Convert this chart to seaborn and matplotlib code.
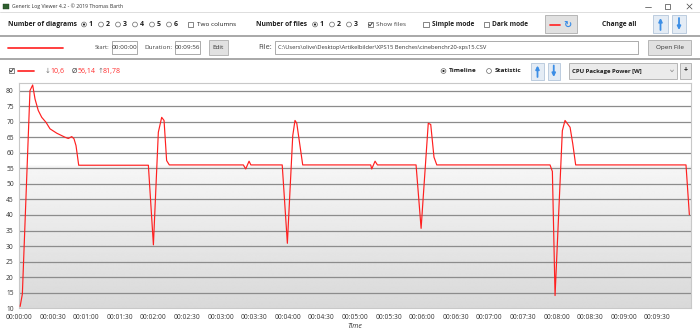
import matplotlib
matplotlib.use("Agg")
import numpy as np
import pandas as pd
import matplotlib.pyplot as plt
import seaborn as sns
from matplotlib.patches import Rectangle, Circle
from matplotlib.ticker import FuncFormatter

# ---------------- data ----------------
time_s = [1, 3, 9.8, 12.2, 14.3, 17.2, 20.3, 24.1, 27.7, 33.7, 41.1, 44.0, 47.1, 49.1, 50.9, 53.3,
          115.5, 120.0, 124.4, 127.4, 129.5, 131.8, 134.2, 200.3, 202.4, 205.4, 207.0, 235.0,
          239.6, 244.4, 246.4, 248.0, 253.3, 314.0, 314.9, 317.9, 320.0, 354.5,
          359.0, 365.4, 367.6, 370.5, 373.0, 474.1, 476.2, 478.6, 485.1, 487.5, 492.0,
          494.4, 497.0, 595.5, 598.5]
power_w = [10.6, 14.6, 80.0, 81.8, 77.3, 73.6, 71.4, 69.8, 67.7, 66.3, 65.0, 64.6, 65.2, 64.5, 62.3, 56.0,
           56.0, 30.4, 66.6, 71.4, 70.4, 57.5, 56.1, 56.1, 54.8, 57.3, 56.1, 56.1,
           30.9, 65.5, 70.4, 69.5, 56.1, 56.1, 54.8, 57.3, 56.1, 56.1,
           35.7, 69.5, 69.1, 58.6, 56.1, 56.1, 54.0, 14.1, 67.1, 70.4, 68.2,
           62.9, 56.1, 56.1, 40.1]
y_ticks = list(range(10, 81, 5))
x_ticks_s = list(range(0, 571, 30))
stat_min, stat_avg, stat_max = "10,6", "56,14", "81,78"
window_title = "Generic Log Viewer 4.2 - \u00a9 2019 Thomas Barth"
file_path = r"C:\Users\olive\Desktop\Artikelbilder\XPS15 Benches\cinebenchr20-xps15.CSV"
series_name = "CPU Package Power [W]"
start_txt, duration_txt = "00:00:00", "00:09:56"
diagram_opts = ["1", "2", "3", "4", "5", "6"]
file_opts = ["1", "2", "3"]

df = pd.DataFrame({"t": time_s, "p": power_w})

# ---------------- style ----------------
sns.set_style("white")
plt.rcParams['font.family'] = ['Open Sans', 'DejaVu Sans']

W, H = 700, 335
fig = plt.figure(figsize=(7, 3.35), dpi=100)
fig.patch.set_facecolor("white")
ui = fig.add_axes([0, 0, 1, 1])
ui.set_xlim(0, W)
ui.set_ylim(H, 0)
ui.axis('off')
renderer = fig.canvas.get_renderer()

RED = "#ff3030"
TXT = "#1e1e1e"


def txt(x, y, s, w=None, size=5.0, ha='left', color=TXT, weight='normal', **kw):
    t = ui.text(x, y, s, ha=ha, va='center', fontsize=size, color=color,
                fontweight=weight, **kw)
    if w:
        bb = t.get_window_extent(renderer)
        t.set_fontsize(size * w / bb.width)
    return t


def box(x0, y0, x1, y1, fc, ec, lw=0.6, z=1):
    ui.add_patch(Rectangle((x0, y0), x1 - x0, y1 - y0, facecolor=fc,
                           edgecolor=ec, linewidth=lw, zorder=z))


def radio(x, y, on):
    ui.add_patch(Circle((x, y), 2.4, facecolor='white', edgecolor='#6a6a6a', lw=0.5))
    if on:
        ui.add_patch(Circle((x, y), 1.1, facecolor='#222222', edgecolor='none'))


def check(x, y, on):
    box(x - 2.6, y - 2.6, x + 2.6, y + 2.6, 'white', '#555555', 0.5)
    if on:
        ui.plot([x - 1.7, x - 0.5, x + 1.8], [y - 0.1, y + 1.4, y - 1.6],
                color='#222222', lw=0.6)


def arrow_btn(x0, x1, y0, y1, up=True):
    box(x0, y0, x1, y1, '#e4ecf5', '#b4c6da', 0.6)
    xc = (x0 + x1) / 2
    a, b = (y1 - 3, y0 + 3) if up else (y0 + 3, y1 - 3)
    ui.annotate('', xy=(xc, b), xytext=(xc, a),
                arrowprops=dict(arrowstyle='-|>', color='#3c8ee6', lw=1.3,
                                mutation_scale=5, shrinkA=0, shrinkB=0))


# ---- title bar ----
box(3, 3.5, 8.5, 9, '#2f5f2f', '#1f3f1f', 0.3)
txt(12, 6.3, window_title, w=109, size=4, color='#333333')
ui.plot([645, 651], [6.5, 6.5], color='#444444', lw=0.5)
box(665, 3.8, 670, 8.8, 'none', '#444444', 0.5)
ui.plot([687, 692], [4, 9], color='#444444', lw=0.5)
ui.plot([687, 692], [9, 4], color='#444444', lw=0.5)
ui.plot([0, W], [11.5, 11.5], color='#d8d8d8', lw=0.6)

# ---- row 1 ----
y1 = 24.5
txt(8, y1, "Number of diagrams", w=70, weight='bold')
for i, o in enumerate(diagram_opts):
    xr = 84 + i * 17
    radio(xr, y1, i == 0)
    txt(xr + 4.5, y1, o, size=5, weight='bold')
check(190.5, y1, False)
txt(197, y1, "Two columns", w=40)
txt(256, y1, "Number of files", w=52, weight='bold')
for i, o in enumerate(file_opts):
    xr = 315 + i * 17
    radio(xr, y1, i == 0)
    txt(xr + 4.5, y1, o, size=5, weight='bold')
check(370.5, y1, True)
txt(376, y1, "Show files", w=30.5, color='#444444')
check(426, y1, False)
txt(431.5, y1, "Simple mode", w=43, weight='bold')
check(486.5, y1, False)
txt(492, y1, "Dark mode", w=36.5, weight='bold')
box(545, 15, 577, 33, '#e1e1e1', '#adadad', 0.6)
ui.plot([550, 559.5], [y1, y1], color=RED, lw=1.3)
ui.text(567.5, y1, "\u21bb", ha='center', va='center', fontsize=7,
        color='#3c8ee6', family='DejaVu Sans', fontweight='bold')
txt(602, y1, "Change all", w=35, weight='bold')
arrow_btn(653, 668, 15, 33, True)
arrow_btn(672, 686, 15, 33, False)
ui.plot([0, W], [35.8, 35.8], color='#999999', lw=1.2)

# ---- row 2 ----
y2 = 47.5
ui.plot([8, 63], [y2, y2], color=RED, lw=1.3)
txt(94.3, y2, "Start:", w=14.7, color='#444444')
box(112, 41, 137, 54, 'white', '#8a8a8a', 0.5)
txt(124.5, y2, start_txt, size=4.6, ha='center', color='#333333')
txt(144, y2, "Duration:", w=28.7, color='#444444')
box(175, 41, 200, 54, 'white', '#8a8a8a', 0.5)
txt(187.5, y2, duration_txt, size=4.6, ha='center', color='#333333')
box(209, 40, 228, 55, '#e1e1e1', '#adadad', 0.6)
txt(218.5, y2, "Edit", size=4.6, ha='center', color='#333333')
txt(258, y2, "File:", w=13.7, color='#444444')
box(275, 41, 638, 54, 'white', '#8a8a8a', 0.5)
txt(277.5, y2, file_path, w=211, color='#333333')
box(648, 40, 691, 55, '#e1e1e1', '#adadad', 0.6)
txt(669.5, y2, "Open File", size=4.6, ha='center', color='#333333')
ui.plot([0, W], [59, 59], color='#999999', lw=1.2)

# ---- row 3 ----
y3 = 71
check(11.5, y3 - 0.5, True)
ui.plot([17.5, 33.5], [y3 - 0.5, y3 - 0.5], color=RED, lw=1.3)
txt(45, y3, "\u2193", size=5, color='#777777', family='DejaVu Sans')
txt(50.5, y3, stat_min, size=5, color=RED)
txt(71.5, y3, "\u00d8", size=5, color='#333333')
txt(77.5, y3, stat_avg, size=5, color=RED)
txt(97.5, y3, "\u2191", size=5, color='#777777', family='DejaVu Sans')
txt(102.5, y3, stat_max, size=5, color=RED)
radio(443.5, y3, True)
txt(449, y3, "Timeline", w=28, weight='bold')
radio(489, y3, False)
txt(494.3, y3, "Statistic", w=26.7, weight='bold')
arrow_btn(531, 544, 62.5, 80, True)
arrow_btn(547.5, 560, 62.5, 80, False)
box(569, 63, 677, 78.5, '#ebebeb', '#acacac', 0.6)
txt(572.5, y3, series_name, w=71.5, weight='bold')
ui.plot([670.5, 672, 673.5], [70, 71.8, 70], color='#888888', lw=0.5)
box(680, 63, 691, 78.5, '#e6e6e6', '#acacac', 0.6)
txt(685.5, y3 - 0.5, "+", size=5, ha='center', weight='bold')

# ---------------- chart ----------------
L, R, T, B = 19, 690.7, 82.5, 308.3
ax = fig.add_axes([L / W, 1 - B / H, (R - L) / W, (B - T) / H])
ax.set_facecolor('white')

# background gradient (white top, grey bottom)
n = 400
frac = np.linspace(0, 1, n)  # 0 bottom .. 1 top
vals = np.where(frac > 0.63, 1.0, 0.965 - (0.63 - frac) / 0.63 * 0.115)
grad = np.repeat(vals[::-1, None], 2, axis=1)
ax.imshow(grad, extent=[0, 1, 0, 1], transform=ax.transAxes, aspect='auto',
          cmap='gray', vmin=0, vmax=1, zorder=0, interpolation='bilinear')

sns.lineplot(data=df, x="t", y="p", ax=ax, color='#ff2020', linewidth=0.85, zorder=3)

ax.set_xlim(0, 599.7)
ax.set_ylim(10, 82.6)
ax.set_yticks(y_ticks)
ax.set_xticks(x_ticks_s)
ax.xaxis.set_major_formatter(FuncFormatter(
    lambda v, p: f"{int(v)//3600:02d}:{(int(v)%3600)//60:02d}:{int(v)%60:02d}"))
ax.yaxis.grid(True, color='#8c8c8c', linewidth=0.9, zorder=1)
ax.xaxis.grid(False)
ax.set_axisbelow(True)
for gl in ax.get_ygridlines():
    gl.set_zorder(1)
ax.get_ygridlines()[0].set_visible(False)

ax.tick_params(axis='both', labelsize=4.8, labelcolor='#333333', color='#9a9a9a',
               length=2.2, width=0.6, pad=2.2)
ax.tick_params(axis='y', pad=1.5)
for s in ax.spines.values():
    s.set_color('#c8c8c8')
    s.set_linewidth(0.8)
ax.set_xlabel("Time", fontsize=5, style='italic', color='#333333', labelpad=1.5)
ax.set_ylabel("")

fig.savefig("out.png", dpi=100)
